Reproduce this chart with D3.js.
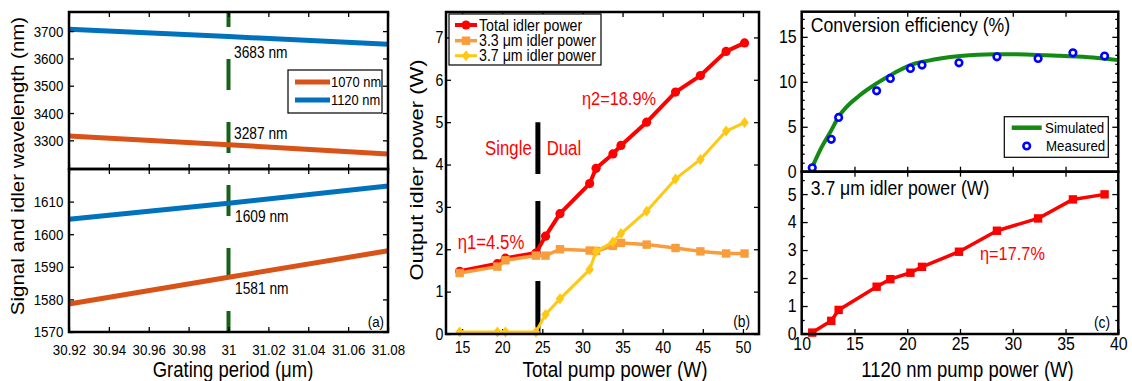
<!DOCTYPE html>
<html><head><meta charset="utf-8">
<script src="https://cdn.jsdelivr.net/npm/d3@7"></script>
<style>html,body{margin:0;padding:0;background:#fff;} svg{display:block;}</style>
</head><body><svg id="chart" width="1132" height="381"></svg>
<script>
// ---------- Panel (a): wavelength vs grating period ----------
const gratingPeriod = [30.92, 31.00, 31.08];
const idler1070  = [3316, 3284, 3250];
const idler1120  = [3707, 3680, 3652];
const signal1070 = [1578.6, 1586.8, 1594.9];
const signal1120 = [1604.6, 1609.5, 1614.8];
const aXTicks = [30.92, 30.94, 30.96, 30.98, 31.00, 31.02, 31.04, 31.06, 31.08];
const aXTickLabels = ["30.92","30.94","30.96","30.98","31","31.02","31.04","31.06","31.08"];
const aTopYTicks = [3300, 3400, 3500, 3600, 3700];
const aBotYTicks = [1570, 1580, 1590, 1600, 1610];
const markedPeriod = 31.00;

// ---------- Panel (b): output idler power vs total pump ----------
const totalPump   = [14.7, 19.4, 20.4, 24.2, 25.4, 27.2, 30.9, 31.7, 33.8, 34.8, 38.0, 41.6, 44.7, 47.9, 50.2];
const totalIdler  = [1.48, 1.66, 1.79, 1.91, 2.31, 2.84, 3.55, 3.91, 4.25, 4.45, 5.00, 5.71, 6.10, 6.67, 6.87];
const idler33     = [1.44, 1.59, 1.74, 1.85, 1.85, 2.00, 1.97, 1.96, 2.08, 2.15, 2.11, 2.03, 1.95, 1.90, 1.90];
const idler37     = [0.05, 0.05, 0.05, 0.05, 0.46, 0.83, 1.52, 1.95, 2.17, 2.37, 2.90, 3.66, 4.12, 4.79, 4.99];
const bXTicks = [15, 20, 25, 30, 35, 40, 45, 50];
const bYTicks = [0, 1, 2, 3, 4, 5, 6, 7];
const thresholdPump = 24.45;
const thresholdTop = 5;

// ---------- Panel (c): efficiency and 3.7 um idler vs 1120 nm pump ----------
const pump1120    = [11.0, 12.8, 13.5, 17.1, 18.4, 20.3, 21.4, 24.9, 28.5, 32.4, 35.7, 38.7];
const measuredEff = [0.44, 3.6, 6.04, 9.0, 10.38, 11.49, 11.86, 12.11, 12.78, 12.6, 13.22, 12.86];
const idler37c    = [0.05, 0.47, 0.86, 1.69, 1.96, 2.19, 2.40, 2.94, 3.69, 4.13, 4.81, 4.99];
const simPump = [10.95, 11.7, 12.8, 13.5, 15.5, 17.1, 18.7, 20.3, 21.9, 25.0, 28.2, 31.3, 34.5, 37.6, 40.0];
const simEff  = [0.38, 2.3, 4.6, 6.1, 8.5, 9.82, 10.93, 11.86, 12.33, 12.86, 13.08, 13.04, 12.89, 12.71, 12.41];
const cXTicks = [10, 15, 20, 25, 30, 35, 40];
const cTopYTicks = [0, 5, 10, 15];
const cBotYTicks = [0, 1, 2, 3, 4, 5];

// ---------- helpers ----------
const SX = 0.86;
const FONT = "'Liberation Sans', Arial, Helvetica, sans-serif";
const svg = d3.select('#chart');
svg.append('rect').attr('width', 1132).attr('height', 381).attr('fill', '#fff');

function label(g, x, y, str, size, opts = {}) {
  return g.append('text')
    .attr('transform', `translate(${x},${y}) scale(${SX},1)` + (opts.rotate ? ' rotate(-90)' : ''))
    .attr('font-family', FONT).attr('font-size', size)
    .attr('fill', opts.fill || '#000')
    .attr('text-anchor', opts.anchor || 'start')
    .attr('dy', '0.35em')
    .text(str);
}

function axis(g, scale, orient, pos, vals, len, labels, size, pad) {
  const fn = {bottom: d3.axisBottom, top: d3.axisTop, left: d3.axisLeft, right: d3.axisRight}[orient];
  const a = fn(scale).tickValues(vals).tickSizeInner(-len).tickSizeOuter(0).tickPadding(pad || 0);
  if (labels === null) a.tickFormat(() => '');
  else if (Array.isArray(labels)) a.tickFormat((d, i) => labels[i]);
  else a.tickFormat(d3.format('d'));
  const tr = (orient === 'bottom' || orient === 'top') ? `translate(0,${pos})` : `translate(${pos},0)`;
  const gg = g.append('g').attr('transform', tr).call(a);
  gg.select('.domain').remove();
  gg.selectAll('line').attr('stroke', '#000').attr('stroke-width', 1.3);
  gg.selectAll('text').attr('font-family', FONT).attr('font-size', size).attr('fill', '#000')
    .attr('transform', `scale(${SX},1)`);
  return gg;
}

function frame(g, x0, y0, x1, y1) {
  g.append('rect').attr('x', x0).attr('y', y0).attr('width', x1 - x0).attr('height', y1 - y0)
    .attr('fill', 'none').attr('stroke', '#000').attr('stroke-width', 2.5);
}

const idx = arr => arr.map((_, i) => i);

// ================= Panel (a) =================
const A = svg.append('g');
const ax = d3.scaleLinear().domain([30.92, 31.08]).range([69, 388]);
const ayT = d3.scaleLinear().domain([3195, 3770]).range([169, 12]);
const ayB = d3.scaleLinear().domain([1570, 1620]).range([332, 169]);
const ORANGE_A = '#d95319', BLUE_A = '#0072bd';

// green dashed marker line
A.append('line').attr('x1', ax(markedPeriod)).attr('x2', ax(markedPeriod))
  .attr('y1', ayT.range()[1]).attr('y2', ayB.range()[0])
  .attr('stroke', '#17621b').attr('stroke-width', 4)
  .attr('stroke-dasharray', '31,32').attr('stroke-dashoffset', 16);

const lineAT = d3.line().x(i => ax(gratingPeriod[i]));
A.append('path').attr('d', d3.line().x(i => ax(gratingPeriod[i])).y(i => ayT(idler1120[i]))(idx(gratingPeriod)))
  .attr('fill', 'none').attr('stroke', BLUE_A).attr('stroke-width', 5);
A.append('path').attr('d', d3.line().x(i => ax(gratingPeriod[i])).y(i => ayT(idler1070[i]))(idx(gratingPeriod)))
  .attr('fill', 'none').attr('stroke', ORANGE_A).attr('stroke-width', 5);
A.append('path').attr('d', d3.line().x(i => ax(gratingPeriod[i])).y(i => ayB(signal1120[i]))(idx(gratingPeriod)))
  .attr('fill', 'none').attr('stroke', BLUE_A).attr('stroke-width', 5);
A.append('path').attr('d', d3.line().x(i => ax(gratingPeriod[i])).y(i => ayB(signal1070[i]))(idx(gratingPeriod)))
  .attr('fill', 'none').attr('stroke', ORANGE_A).attr('stroke-width', 5);

// ticks (a)
axis(A, ax, 'top', 12, aXTicks, 5, null, 15, 0);
axis(A, ax, 'bottom', 169, aXTicks, 5, null, 15, 0);
axis(A, ax, 'top', 169, aXTicks, 5, null, 15, 0);
axis(A, ax, 'bottom', 332, aXTicks, 5, aXTickLabels, 15.5, 12);
axis(A, ayT, 'left', 69, aTopYTicks, 5, undefined, 15.5, 6.6);
axis(A, ayT, 'right', 388, aTopYTicks, 5, null, 15, 0);
axis(A, ayB, 'left', 69, aBotYTicks, 5, undefined, 15.5, 6.6);
axis(A, ayB, 'right', 388, aBotYTicks, 5, null, 15, 0);

// annotations (a)
label(A, 234, 52, '3683 nm', 16);
label(A, 234, 133, '3287 nm', 16);
label(A, 235, 216, '1609 nm', 16);
label(A, 235, 288, '1581 nm', 16);
label(A, 384, 322, '(a)', 15.5, {anchor: 'end'});

// legend (a)
A.append('rect').attr('x', 288).attr('y', 70).attr('width', 94).attr('height', 43)
  .attr('fill', '#fff').attr('stroke', '#000').attr('stroke-width', 1.2);
[[ORANGE_A, '1070 nm', 82], [BLUE_A, '1120 nm', 100]].forEach(([c, t, y]) => {
  A.append('line').attr('x1', 295).attr('x2', 330).attr('y1', y).attr('y2', y).attr('stroke', c).attr('stroke-width', 5);
  label(A, 331, y, t, 15);
});

frame(A, 69, 12, 388, 169);
frame(A, 69, 169, 388, 332);
label(A, 18, 166, 'Signal and idler wavelength (nm)', 20.5, {rotate: true, anchor: 'middle'});
label(A, 233, 369, 'Grating period (\u03bcm)', 21.5, {anchor: 'middle'});

// ================= Panel (b) =================
const B = svg.append('g');
const bx = d3.scaleLinear().domain([13, 52]).range([446, 759]);
const by = d3.scaleLinear().domain([0, 7.6]).range([334, 12]);
const RED = '#ff0000', ORANGE_B = '#f89c3c', YELLOW = '#ffc814';

axis(B, bx, 'top', 12, bXTicks, 5, null, 16, 0);
axis(B, bx, 'bottom', 334, bXTicks, 5, undefined, 16.5, 7.7);
axis(B, by, 'left', 446, bYTicks, 5, undefined, 16.5, 3);
axis(B, by, 'right', 759, bYTicks, 5, null, 16, 0);

// threshold bar
B.append('line').attr('x1', bx(thresholdPump)).attr('x2', bx(thresholdPump))
  .attr('y1', by(0)).attr('y2', by(thresholdTop))
  .attr('stroke', '#000').attr('stroke-width', 5).attr('stroke-dasharray', '53,27');

const diamond = 'M0,-5.5L4.2,0L0,5.5L-4.2,0Z';
function series(g, xs, ys, xsc, ysc, color, lw, marker) {
  g.append('path').attr('d', d3.line().x(i => xsc(xs[i])).y(i => ysc(ys[i]))(idx(xs)))
    .attr('fill', 'none').attr('stroke', color).attr('stroke-width', lw).attr('stroke-linejoin', 'round');
  idx(xs).forEach(i => drawMarker(g, xsc(xs[i]), ysc(ys[i]), color, marker));
}
function drawMarker(g, x, y, color, marker) {
  if (marker === 'circle') g.append('circle').attr('cx', x).attr('cy', y).attr('r', 4.6).attr('fill', color);
  else if (marker === 'square') g.append('rect').attr('x', x - 4.2).attr('y', y - 4.2).attr('width', 8.4).attr('height', 8.4).attr('fill', color);
  else if (marker === 'diamond') g.append('path').attr('d', diamond).attr('transform', `translate(${x},${y})`).attr('fill', color);
  else if (marker === 'ring') g.append('circle').attr('cx', x).attr('cy', y).attr('r', 3.3).attr('fill', '#fff').attr('stroke', '#0000ff').attr('stroke-width', 2.6);
}
series(B, totalPump, totalIdler, bx, by, RED, 4, 'circle');
series(B, totalPump, idler33, bx, by, ORANGE_B, 3.5, 'square');
series(B, totalPump, idler37, bx, by, YELLOW, 3, 'diamond');

label(B, 531.7, 147.7, 'Single', 19.5, {anchor: 'end', fill: RED});
label(B, 546.7, 147.7, 'Dual', 19.5, {fill: RED});
label(B, 582, 98, '\u03b72=18.9%', 19, {fill: RED});
label(B, 457.7, 242.3, '\u03b71=4.5%', 19.5, {fill: RED});
label(B, 750, 321.7, '(b)', 16, {anchor: 'end'});

// legend (b)
B.append('rect').attr('x', 449).attr('y', 14).attr('width', 152).attr('height', 51)
  .attr('fill', '#fff').attr('stroke', '#000').attr('stroke-width', 1.2);
[[RED, 'Total idler power', 25, 'circle', 4], [ORANGE_B, '3.3 \u03bcm idler power', 40.7, 'square', 3.5], [YELLOW, '3.7 \u03bcm idler power', 55.7, 'diamond', 3]]
  .forEach(([c, t, y, m, w]) => {
    B.append('line').attr('x1', 455).attr('x2', 477).attr('y1', y).attr('y2', y).attr('stroke', c).attr('stroke-width', w);
    drawMarker(B, 466, y, c, m);
    label(B, 479, y, t, 16.5);
  });

frame(B, 446, 12, 759, 334);
label(B, 416.7, 170, 'Output idler power (W)', 22, {rotate: true, anchor: 'middle'});
label(B, 615, 369, 'Total pump power (W)', 22, {anchor: 'middle'});

// ================= Panel (c) =================
const C = svg.append('g');
const cx = d3.scaleLinear().domain([10, 40]).range([801.7, 1118.3]);
const cyT = d3.scaleLinear().domain([0, 17.8]).range([171.7, 11.7]);
const cyB = d3.scaleLinear().domain([0, 5.8]).range([334, 171.7]);
const GREEN = '#138a13';

const cxMid = cXTicks.slice(1, -1);
axis(C, cx, 'top', 11.7, cxMid, 5, null, 16, 0);
axis(C, cx, 'bottom', 171.7, cxMid, 5, null, 16, 0);
axis(C, cx, 'top', 171.7, cxMid, 5, null, 16, 0);
axis(C, cx, 'bottom', 334, cXTicks, 5, undefined, 18.5, 3);
axis(C, cyT, 'left', 801.7, cTopYTicks, 6, undefined, 18.5, 5.8);
axis(C, cyT, 'right', 1118.3, cTopYTicks, 6, null, 16, 0);
axis(C, cyB, 'left', 801.7, cBotYTicks, 6, undefined, 18.5, 5.8);
axis(C, cyB, 'right', 1118.3, cBotYTicks, 6, null, 16, 0);
const minorT = d3.range(1, 18).filter(v => v % 5 !== 0);
const minorB = d3.range(0.5, 5.8, 1);
axis(C, cyT, 'left', 801.7, minorT, 3, null, 16, 0);
axis(C, cyT, 'right', 1118.3, minorT, 3, null, 16, 0);
axis(C, cyB, 'left', 801.7, minorB, 3, null, 16, 0);
axis(C, cyB, 'right', 1118.3, minorB, 3, null, 16, 0);

C.append('path').attr('d', d3.line().curve(d3.curveMonotoneX).x(i => cx(simPump[i])).y(i => cyT(simEff[i]))(idx(simPump)))
  .attr('fill', 'none').attr('stroke', GREEN).attr('stroke-width', 4);
idx(pump1120).forEach(i => drawMarker(C, cx(pump1120[i]), cyT(measuredEff[i]), '#0000ff', 'ring'));

C.append('path').attr('d', d3.line().x(i => cx(pump1120[i])).y(i => cyB(idler37c[i]))(idx(pump1120)))
  .attr('fill', 'none').attr('stroke', RED).attr('stroke-width', 3.5).attr('stroke-linejoin', 'round');
idx(pump1120).forEach(i => drawMarker(C, cx(pump1120[i]), cyB(idler37c[i]), RED, 'square'));

label(C, 810.7, 25, 'Conversion efficiency (%)', 20.5);
label(C, 810.7, 188.3, '3.7 \u03bcm idler power (W)', 20.5);
label(C, 980, 253.3, '\u03b7=17.7%', 19, {fill: RED});
label(C, 1110, 322.7, '(c)', 16, {anchor: 'end'});

// legend (c)
C.append('rect').attr('x', 1004.3).attr('y', 116.7).attr('width', 104).attr('height', 40.6)
  .attr('fill', '#fff').attr('stroke', '#000').attr('stroke-width', 1.2);
C.append('line').attr('x1', 1011.7).attr('x2', 1041.7).attr('y1', 127.7).attr('y2', 127.7).attr('stroke', GREEN).attr('stroke-width', 4.5);
label(C, 1045, 127.7, 'Simulated', 15.5);
drawMarker(C, 1026.7, 146, '#0000ff', 'ring');
label(C, 1046, 146, 'Measured', 15.5);

frame(C, 801.7, 11.7, 1118.3, 171.7);
frame(C, 801.7, 171.7, 1118.3, 334);
label(C, 967.5, 369, '1120 nm pump power (W)', 21.5, {anchor: 'middle'});
</script>
</body></html>
